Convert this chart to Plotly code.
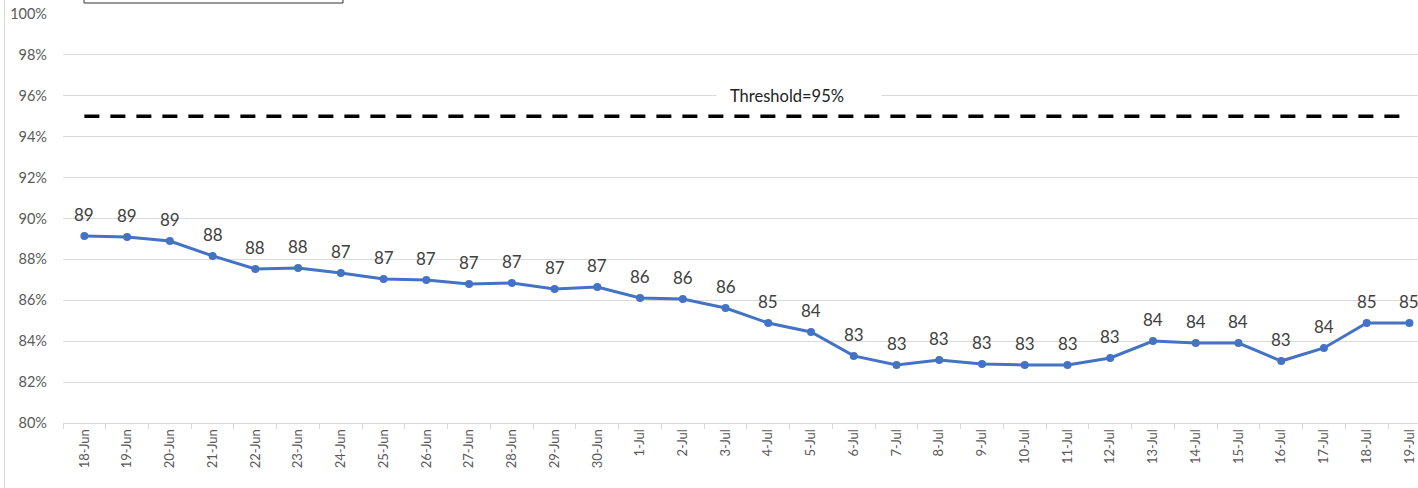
import plotly.graph_objects as go

dates = ["18-Jun", "19-Jun", "20-Jun", "21-Jun", "22-Jun", "23-Jun", "24-Jun", "25-Jun",
         "26-Jun", "27-Jun", "28-Jun", "29-Jun", "30-Jun", "1-Jul", "2-Jul", "3-Jul",
         "4-Jul", "5-Jul", "6-Jul", "7-Jul", "8-Jul", "9-Jul", "10-Jul", "11-Jul",
         "12-Jul", "13-Jul", "14-Jul", "15-Jul", "16-Jul", "17-Jul", "18-Jul", "19-Jul"]
values = [89.14, 89.10, 88.90, 88.17, 87.53, 87.58, 87.33, 87.04,
          86.99, 86.80, 86.85, 86.55, 86.65, 86.11, 86.06, 85.62,
          84.89, 84.45, 83.28, 82.84, 83.08, 82.89, 82.84, 82.84,
          83.18, 84.01, 83.91, 83.91, 83.03, 83.67, 84.89, 84.89]
labels = ["89", "89", "89", "88", "88", "88", "87", "87",
          "87", "87", "87", "87", "87", "86", "86", "86",
          "85", "84", "83", "83", "83", "83", "83", "83",
          "83", "84", "84", "84", "83", "84", "85", "85"]
threshold = 95
threshold_text = "Threshold=95%"
y_ticks = [80, 82, 84, 86, 88, 90, 92, 94, 96, 98, 100]
y_ticktext = ["80%", "82%", "84%", "86%", "88%", "90%", "92%", "94%", "96%", "98%", "100%"]

W, H = 1418, 488
ML, MR, MT, MB = 63, 0, 14, 65
pw = W - ML - MR
ph = H - MT - MB

FONT = "Lato, Open Sans, sans-serif"


def px_x(p):
    return (p - ML) / pw


def px_y(p):
    return (H - MB - p) / ph


fig = go.Figure()

fig.add_trace(go.Scatter(
    x=dates, y=[threshold] * len(dates), mode="lines",
    line=dict(color="black", width=3.5, dash="15px,11px"),
    hoverinfo="skip", showlegend=False))

fig.add_trace(go.Scatter(
    x=dates, y=values, mode="lines+markers",
    line=dict(color="#4472C4", width=3),
    marker=dict(color="#4472C4", size=8),
    showlegend=False))

annotations = []
for d, v, t in zip(dates, values, labels):
    annotations.append(dict(
        x=d, y=v, text=t, showarrow=False, yanchor="bottom", yshift=9,
        font=dict(family=FONT, size=17, color="#404040")))

# white gap behind threshold label
annotations.append(dict(
    x=px_x(716), y=96, xref="paper", yref="y", xanchor="left", yanchor="middle",
    text=" ", width=164, height=14, bgcolor="white", borderpad=0, showarrow=False))
annotations.append(dict(
    x=px_x(787), y=96, xref="paper", yref="y", xanchor="center", yanchor="middle",
    text=threshold_text, showarrow=False,
    font=dict(family=FONT, size=16.5, color="#222222")))

fig.update_layout(
    width=W, height=H,
    margin=dict(l=ML, r=MR, t=MT, b=MB, pad=0),
    paper_bgcolor="white", plot_bgcolor="white",
    annotations=annotations,
    shapes=[
        dict(type="rect", xref="paper", yref="paper",
             x0=px_x(84), x1=px_x(343), y0=px_y(3), y1=px_y(-20),
             line=dict(color="#333333", width=1), fillcolor="white"),
        dict(type="line", xref="paper", yref="paper",
             x0=px_x(4.5), x1=px_x(4.5), y0=px_y(0), y1=px_y(488),
             line=dict(color="#d9d9d9", width=1)),
    ],
    xaxis=dict(
        type="category", range=[-0.5, 31.2],
        tickangle=-90, tickson="boundaries", ticks="outside", ticklen=5,
        tickcolor="#d9d9d9", showgrid=False, showline=True, linecolor="#d9d9d9",
        linewidth=1, tickfont=dict(family=FONT, size=13, color="#595959"),
        fixedrange=True),
    yaxis=dict(
        range=[80, 100], tickmode="array", tickvals=y_ticks, ticktext=y_ticktext,
        showgrid=True, gridcolor="#d9d9d9", gridwidth=1, zeroline=False,
        showline=False, ticks="", ticklabelstandoff=15,
        tickfont=dict(family=FONT, size=14.5, color="#595959"),
        fixedrange=True),
)

fig.write_html(
    "out.html",
    config={"displayModeBar": False},
    post_script="document.body.style.margin='0';document.body.style.overflow='hidden';",
)
